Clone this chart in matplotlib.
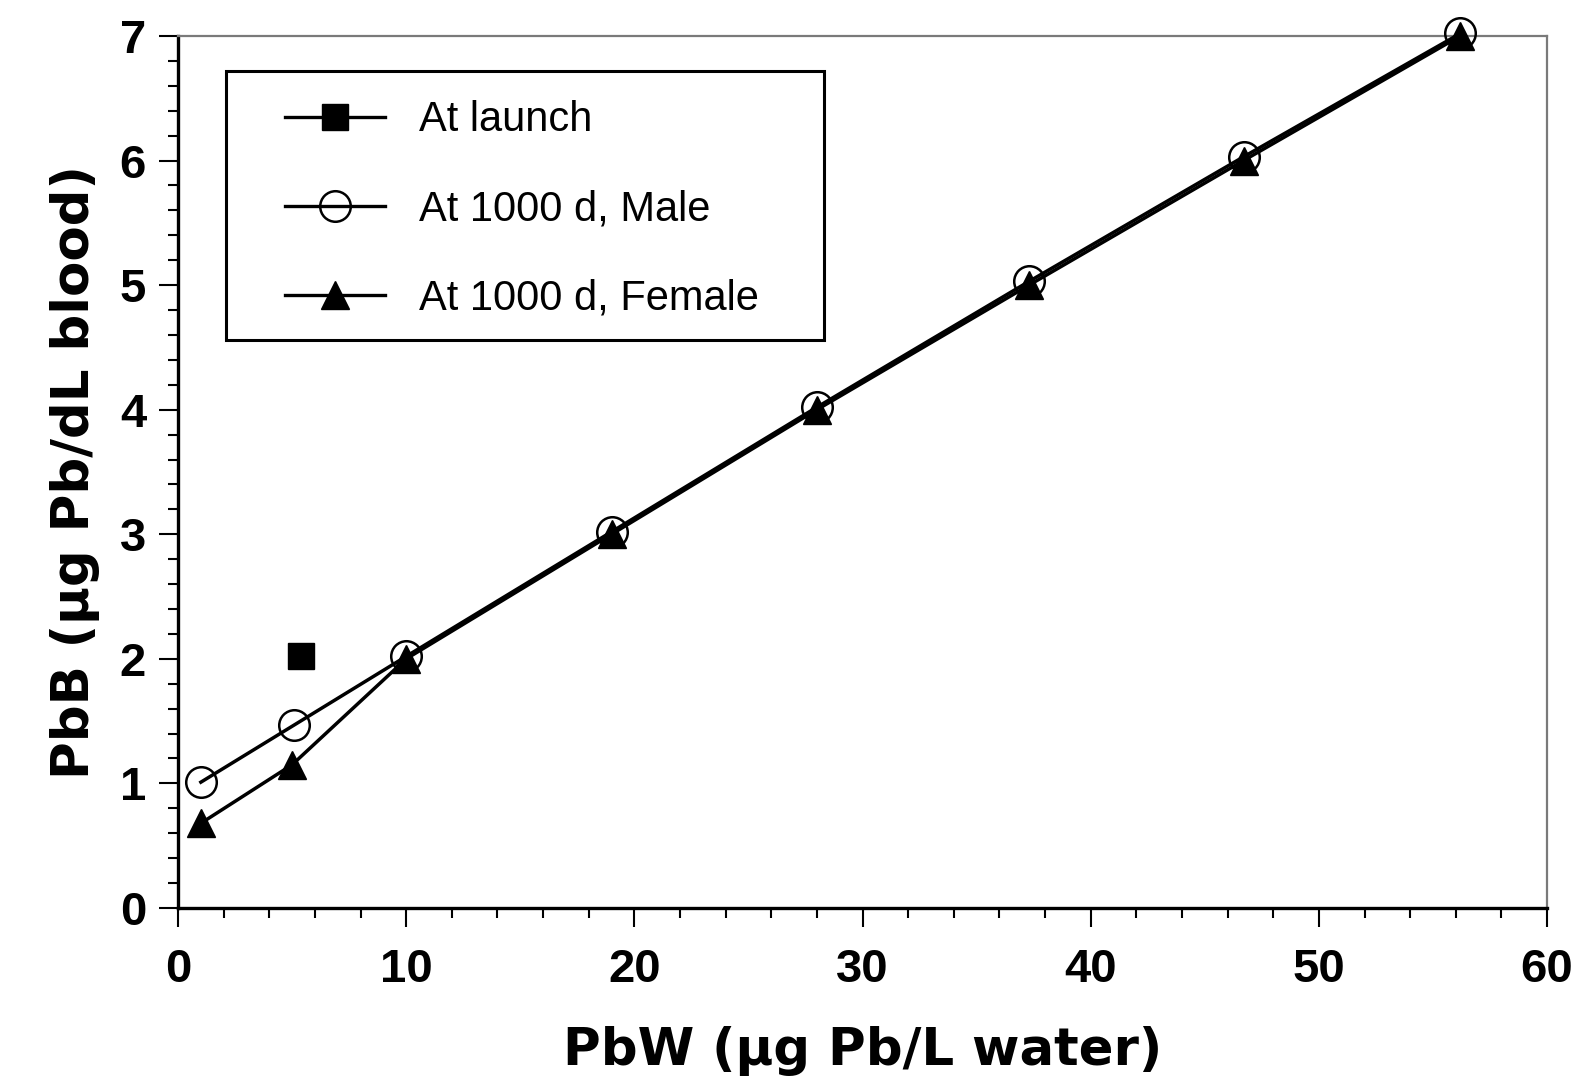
import matplotlib
matplotlib.use("Agg")
import matplotlib.pyplot as plt
from matplotlib.patches import Rectangle
from matplotlib.ticker import MultipleLocator

# Data
launch_x = [5.4]
launch_y = [2.02]
male_x = [1.0, 5.1, 10.0, 19.0, 28.0, 37.3, 46.7, 56.2]
male_y = [1.01, 1.47, 2.02, 3.02, 4.02, 5.03, 6.03, 7.02]
female_x = [1.0, 5.0, 10.0, 19.0, 28.0, 37.3, 46.7, 56.2]
female_y = [0.68, 1.15, 2.00, 3.00, 4.00, 5.00, 6.00, 7.00]
labels = ["At launch", "At 1000 d, Male", "At 1000 d, Female"]
x_ticks = [0, 10, 20, 30, 40, 50, 60]
y_ticks = [0, 1, 2, 3, 4, 5, 6, 7]

plt.rcParams['font.family'] = ['Liberation Sans', 'DejaVu Sans']

fig = plt.figure(figsize=(15.73, 10.83), dpi=100)
ax = fig.add_axes([0.1132, 0.1616, 0.8703, 0.8052])

lw = 2.5
h1, = ax.plot(launch_x, launch_y, color='black', lw=lw, marker='s', ms=18.5,
              mfc='black', mec='black', clip_on=False, zorder=3)
h2, = ax.plot(male_x, male_y, color='black', lw=lw, marker='o', ms=22,
              mfc='none', mec='black', mew=1.8, clip_on=False, zorder=3)
h3, = ax.plot(female_x, female_y, color='black', lw=lw, marker='^', ms=20,
              mfc='black', mec='black', clip_on=False, zorder=4)

ax.set_xlim(0, 60)
ax.set_ylim(0, 7)
ax.set_xticks(x_ticks)
ax.set_yticks(y_ticks)
ax.xaxis.set_minor_locator(MultipleLocator(2))
ax.yaxis.set_minor_locator(MultipleLocator(0.2))

ax.tick_params(axis='both', which='major', length=14, width=1.5, direction='out',
               labelsize=34)
ax.tick_params(axis='both', which='minor', length=7, width=1.5, direction='out')
ax.tick_params(axis='x', which='major', pad=15)
ax.tick_params(axis='y', which='major', pad=9)
ax.tick_params(top=False, right=False, which='both')
for lab in ax.get_xticklabels() + ax.get_yticklabels():
    lab.set_fontweight('bold')

for s in ['left', 'bottom']:
    ax.spines[s].set_linewidth(2.4)
    ax.spines[s].set_color('black')
for s in ['top', 'right']:
    ax.spines[s].set_linewidth(1.6)
    ax.spines[s].set_color('#7a7a7a')

ax.set_xlabel('PbW (µg Pb/L water)', fontsize=37, fontweight='bold', labelpad=24,
              family=['DejaVu Sans'])
ax.set_ylabel('PbB (µg Pb/dL blood)', fontsize=37, fontweight='bold', labelpad=14,
              family=['DejaVu Sans'])

# legend frame
span_x = 1547 - 178
span_y = 908 - 36
x0 = (226 - 178) / span_x
x1 = (824 - 178) / span_x
y1 = (908 - 71) / span_y
y0 = (908 - 340) / span_y
ax.add_patch(Rectangle((x0, y0), x1 - x0, y1 - y0, transform=ax.transAxes,
                       fill=False, edgecolor='black', lw=2.2, zorder=5))
leg = ax.legend([h1, h2, h3], labels, loc='upper left',
                bbox_to_anchor=((256 - 178) / span_x, y1), frameon=False, fontsize=30,
                handlelength=2.4, handletextpad=0.8, labelspacing=1.18,
                borderpad=0.7, borderaxespad=0.0, markerscale=1.0)
for line in leg.get_lines():
    line.set_linewidth(2.4)

fig.savefig('out.png', dpi=100)
